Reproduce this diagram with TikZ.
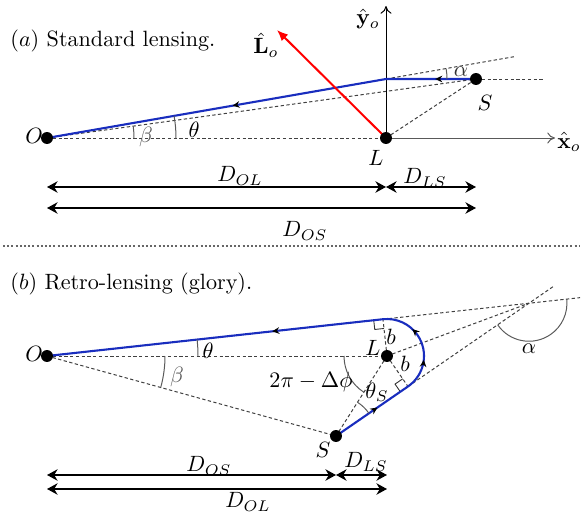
\documentclass[tikz,border=0pt]{standalone}
\usetikzlibrary{arrows.meta,calc,decorations.markings}
\definecolor{rayblue}{RGB}{25,45,190}
\definecolor{arcgray}{RGB}{90,90,90}
\begin{document}
\begin{tikzpicture}[x=0.452pt,y=0.452pt,
  dsh/.style={dash pattern=on 1.5pt off 1.1pt, line width=0.45pt, black!75},
  ray/.style={line width=0.95pt, draw=rayblue},
  axisline/.style={line width=0.45pt, -{To[length=3.5pt,width=5pt]}},
  redarrow/.style={line width=0.9pt, draw=red, -{Latex[length=5pt,width=4.2pt]}},
  dim/.style={line width=0.6pt, {Stealth[length=4.8pt,width=5.2pt]}-{Stealth[length=4.8pt,width=5.2pt]}},
  angarc/.style={line width=0.45pt, draw=arcgray},
  rightang/.style={line width=0.4pt, draw=black!80},
  dot/.style={circle, fill=black, inner sep=0pt, minimum size=5.4pt},
  sep/.style={line width=0.9pt, draw=black!60, dash pattern=on 0.9pt off 1pt},
  title/.style={anchor=west, inner sep=0pt}
]
\useasboundingbox (0,0) rectangle (581,512);

% ---------------- part (a) ----------------
\coordinate (Oa) at (47,374);
\coordinate (La) at (386,374);
\coordinate (Sa) at (476,433);
\coordinate (Ba) at (386,433);
\coordinate (Ytop) at (386,506);
\coordinate (Xend) at (555,374);
\coordinate (Lo) at (277,482);
\coordinate (Ea) at ($(Oa)!1.38!(Ba)$);
\coordinate (Ha) at (545,433);

\node[title] (titlea) at (10,471) {$(a)$ Standard lensing.};

\draw[dsh] (Oa) -- (La);
\draw[dsh] (Oa) -- (Sa);
\draw[dsh] (La) -- (Sa);
\draw[dsh] (Ba) -- (Ea);
\draw[dsh] (Sa) -- (Ha);
\draw[axisline] (La) -- (Ytop);
\draw[axisline, draw=black!65] (La) -- (Xend);

\draw[ray, postaction={decorate, decoration={markings,
   mark=at position 0.094 with {\arrow[black]{Stealth[length=3.2pt,width=3pt]}},
   mark=at position 0.566 with {\arrow[black]{Stealth[length=3.2pt,width=3pt]}}}}]
   (Sa) -- (Ba) -- (Oa);
\draw[redarrow] (La) -- (Lo);

\draw[angarc] (Oa) ++(0:87) arc[start angle=0, end angle=7.83, radius=87];
\draw[angarc] (Oa) ++(0:129) arc[start angle=0, end angle=9.87, radius=129];
\draw[angarc] (Ba) ++(0:61) arc[start angle=0, end angle=9.87, radius=61];

\node[dot] (Oad) at (Oa) {};
\node[dot] (Lad) at (La) {};
\node[dot] (Sad) at (Sa) {};

\node (lOa) at (34,376) {$O$};
\node (lLa) at (376,354) {$L$};
\node (lSa) at (485,409) {$S$};
\node[text=black!65] (lbeta) at (146,375) {$\beta$};
\node (ltheta) at (194,382) {$\theta$};
\node[text=black!80] (lalpha) at (461,440) {$\alpha$};
\node[inner sep=0pt] (lLo) at (266,467) {$\hat{\mathbf{L}}_o$};
\node (lyo) at (368,493) {$\hat{\mathbf{y}}_o$};
\node (lxo) at (569,370) {$\hat{\mathbf{x}}_o$};

\coordinate (d1l) at (47,325);
\coordinate (d1m) at (386,325);
\coordinate (d1r) at (476,325);
\coordinate (d2l) at (47,304);
\coordinate (d2r) at (476,304);
\draw[dim] (d1l) -- (d1m);
\draw[dim] (d1m) -- (d1r);
\draw[dim] (d2l) -- (d2r);
\node (lDOLa) at (240,336) {$D_{OL}$};
\node (lDLSa) at (425,334) {$D_{LS}$};
\node (lDOSa) at (305,281) {$D_{OS}$};

% separator
\coordinate (sepl) at (3,266);
\coordinate (sepr) at (579,266);
\draw[sep] (sepl) -- (sepr);

% ---------------- part (b) ----------------
\coordinate (Ob) at (47,156);
\coordinate (Lb) at (387,156);
\coordinate (Sb) at (336,76);
\coordinate (T1) at ($(Lb)+(96.25:37)$);
\coordinate (T2) at ($(Lb)+(-55.47:37)$);
\coordinate (Xb) at (intersection of Ob--T1 and Sb--T2);
\coordinate (E1) at ($(Ob)!1.106!(Xb)$);
\coordinate (E2) at ($(T2)!1.2!(Xb)$);

\node[title] (titleb) at (10,228) {$(b)$ Retro-lensing (glory).};

\draw[dsh] (Ob) -- (Lb);
\draw[dsh] (Ob) -- (Sb);
\draw[dsh] (Lb) -- (Sb);
\draw[dsh] (Lb) -- (T1);
\draw[dsh] (Lb) -- (T2);
\draw[dsh] (Lb) -- (Xb);
\draw[dsh] (T1) -- (E1);
\draw[dsh] (T2) -- (E2);

% right-angle marks
\coordinate (r1a) at ($(T1)!4.2pt!(Ob)$);
\coordinate (r1b) at ($(T1)!4.2pt!(Lb)$);
\draw[rightang] (r1a) -- ($(r1a)+(r1b)-(T1)$) -- (r1b);
\coordinate (r2a) at ($(T2)!4.2pt!(Sb)$);
\coordinate (r2b) at ($(T2)!4.2pt!(Lb)$);
\draw[rightang] (r2a) -- ($(r2a)+(r2b)-(T2)$) -- (r2b);

\draw[ray, postaction={decorate, decoration={markings,
   mark=at position 0.096 with {\arrow[black]{Stealth[length=3.2pt,width=3pt]}},
   mark=at position 0.228 with {\arrow[black]{Stealth[length=3.2pt,width=3pt]}},
   mark=at position 0.293 with {\arrow[black]{Stealth[length=3.2pt,width=3pt]}},
   mark=at position 0.567 with {\arrow[black]{Stealth[length=3.2pt,width=3pt]}}}}]
   (Sb) -- (T2) arc[start angle=-55.47, end angle=96.25, radius=37] -- (Ob);

\draw[angarc] (Ob) ++(0:151) arc[start angle=0, end angle=6.25, radius=151];
\draw[angarc] (Ob) ++(-15.47:118) arc[start angle=-15.47, end angle=0, radius=118];
\draw[angarc] (Lb) ++(180:43) arc[start angle=180, end angle=237.48, radius=43];
\draw[angarc] (Sb) ++(34.53:40) arc[start angle=34.53, end angle=57.48, radius=40];
\draw[angarc] (Xb) ++(214.53:38) arc[start angle=214.53, end angle=366.25, radius=38];

\node[dot] (Obd) at (Ob) {};
\node[dot] (Lbd) at (Lb) {};
\node[dot] (Sbd) at (Sb) {};

\node (lOb) at (34,158) {$O$};
\node (lLb) at (373,164) {$L$};
\node (lSb) at (323,62) {$S$};
\node (lb1) at (391,175) {$b$};
\node (lb2) at (405,148) {$b$};
\node (lthetab) at (208,161) {$\theta$};
\node[text=black!65] (lbetab) at (177,135) {$\beta$};
\node (ldphi) at (311,130) {$2\pi-\Delta\phi$};
\node (lthetaS) at (377,120) {$\theta_S$};
\node (lalphab) at (529,163) {$\alpha$};

\coordinate (e1l) at (47,37);
\coordinate (e1m) at (336,37);
\coordinate (e1r) at (387,37);
\coordinate (e2l) at (47,23);
\coordinate (e2r) at (387,23);
\draw[dim] (e1l) -- (e1m);
\draw[dim] (e1m) -- (e1r);
\draw[dim] (e2l) -- (e2r);
\node (lDOSb) at (209,46) {$D_{OS}$};
\node (lDLSb) at (366,50) {$D_{LS}$};
\node (lDOLb) at (248,10) {$D_{OL}$};
\end{tikzpicture}
\end{document}
